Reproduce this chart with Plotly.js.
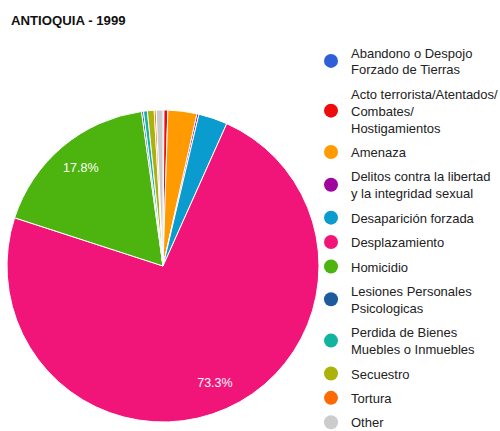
<!DOCTYPE html>
<html>
<head>
<meta charset="utf-8">
<script src="https://cdn.plot.ly/plotly-3.0.1.min.js"></script>
<style>html,body{margin:0;padding:0;background:#fff;}#chart{width:500px;height:431px;}</style>
</head>
<body>
<div id="chart"></div>
<script>
// Categories (legend labels, with line breaks as in the reference)
var categories = [
  "Abandono o Despojo<br>Forzado de Tierras",
  "Acto terrorista/Atentados/<br>Combates/<br>Hostigamientos",
  "Amenaza",
  "Delitos contra la libertad<br>y la integridad sexual",
  "Desaparición forzada",
  "Desplazamiento",
  "Homicidio",
  "Lesiones Personales<br>Psicologicas",
  "Perdida de Bienes<br>Muebles o Inmuebles",
  "Secuestro",
  "Tortura",
  "Other"
];
// Share of each category (percent)
var shares = [0.1, 0.4, 3.0, 0.2, 3.0, 73.3, 17.8, 0.2, 0.4, 0.7, 0.2, 0.7];
var sliceColors = ["#2f5fd6", "#ef0b0b", "#ff9a00", "#a0069e", "#0a9bcf", "#f1157a",
                   "#4db30e", "#1f5b9c", "#12b39f", "#aab20b", "#ff6a00", "#cccccc"];
// Only the two large slices carry a visible label
var showLabel = [false, false, false, false, false, true, true, false, false, false, false, false];
var titleText = "ANTIOQUIA - 1999";

var FONT = "Liberation Sans, Arial, Helvetica, sans-serif";
var pieDomain = {x: [0.014, 0.638], y: [0.0186, 0.747]};

// Main pie (slices only)
var pie = {
  type: "pie",
  labels: categories,
  values: shares,
  sort: false,
  direction: "clockwise",
  rotation: 0,
  marker: {colors: sliceColors, line: {color: "#ffffff", width: 1}},
  textinfo: "none",
  hoverinfo: "none",
  showlegend: false,
  domain: pieDomain
};

// Transparent ring over the pie that carries the percentage labels near the rim
var labelRing = {
  type: "pie",
  labels: categories,
  values: shares,
  sort: false,
  direction: "clockwise",
  rotation: 0,
  hole: 0.64,
  marker: {colors: sliceColors.map(function () { return "rgba(0,0,0,0)"; }), line: {width: 0}},
  texttemplate: showLabel.map(function (s) { return s ? "%{percent:.1%}" : ""; }),
  textposition: "inside",
  insidetextorientation: "horizontal",
  textfont: {color: "#ffffff", size: 12.5, family: FONT},
  hoverinfo: "none",
  showlegend: false,
  domain: pieDomain
};

var traces = [pie, labelRing];
categories.forEach(function (c, i) {
  traces.push({
    type: "scatter",
    mode: "markers",
    x: [null], y: [null],
    name: c,
    legendgroup: "g" + i,
    marker: {color: sliceColors[i], symbol: "circle", size: 14},
    hoverinfo: "none",
    showlegend: true
  });
});

var layout = {
  width: 500,
  height: 431,
  margin: {l: 0, r: 0, t: 0, b: 0, autoexpand: false},
  paper_bgcolor: "#ffffff",
  plot_bgcolor: "#ffffff",
  title: {
    text: "<b>" + titleText + "</b>",
    font: {family: FONT, size: 13.2, color: "#111111"},
    x: 0.022, xanchor: "left",
    y: 0.952, yanchor: "middle",
    automargin: false
  },
  xaxis: {visible: false, domain: [0.99, 1]},
  yaxis: {visible: false, domain: [0.99, 1]},
  legend: {
    x: 0.622, xanchor: "left",
    y: 0.913, yanchor: "top",
    traceorder: "grouped",
    tracegroupgap: 4.5,
    font: {family: FONT, size: 13, color: "#222222"},
    bgcolor: "rgba(0,0,0,0)",
    itemclick: false, itemdoubleclick: false
  },
  showlegend: true
};

Plotly.newPlot("chart", traces, layout, {displayModeBar: false, staticPlot: true});
</script>
</body>
</html>
